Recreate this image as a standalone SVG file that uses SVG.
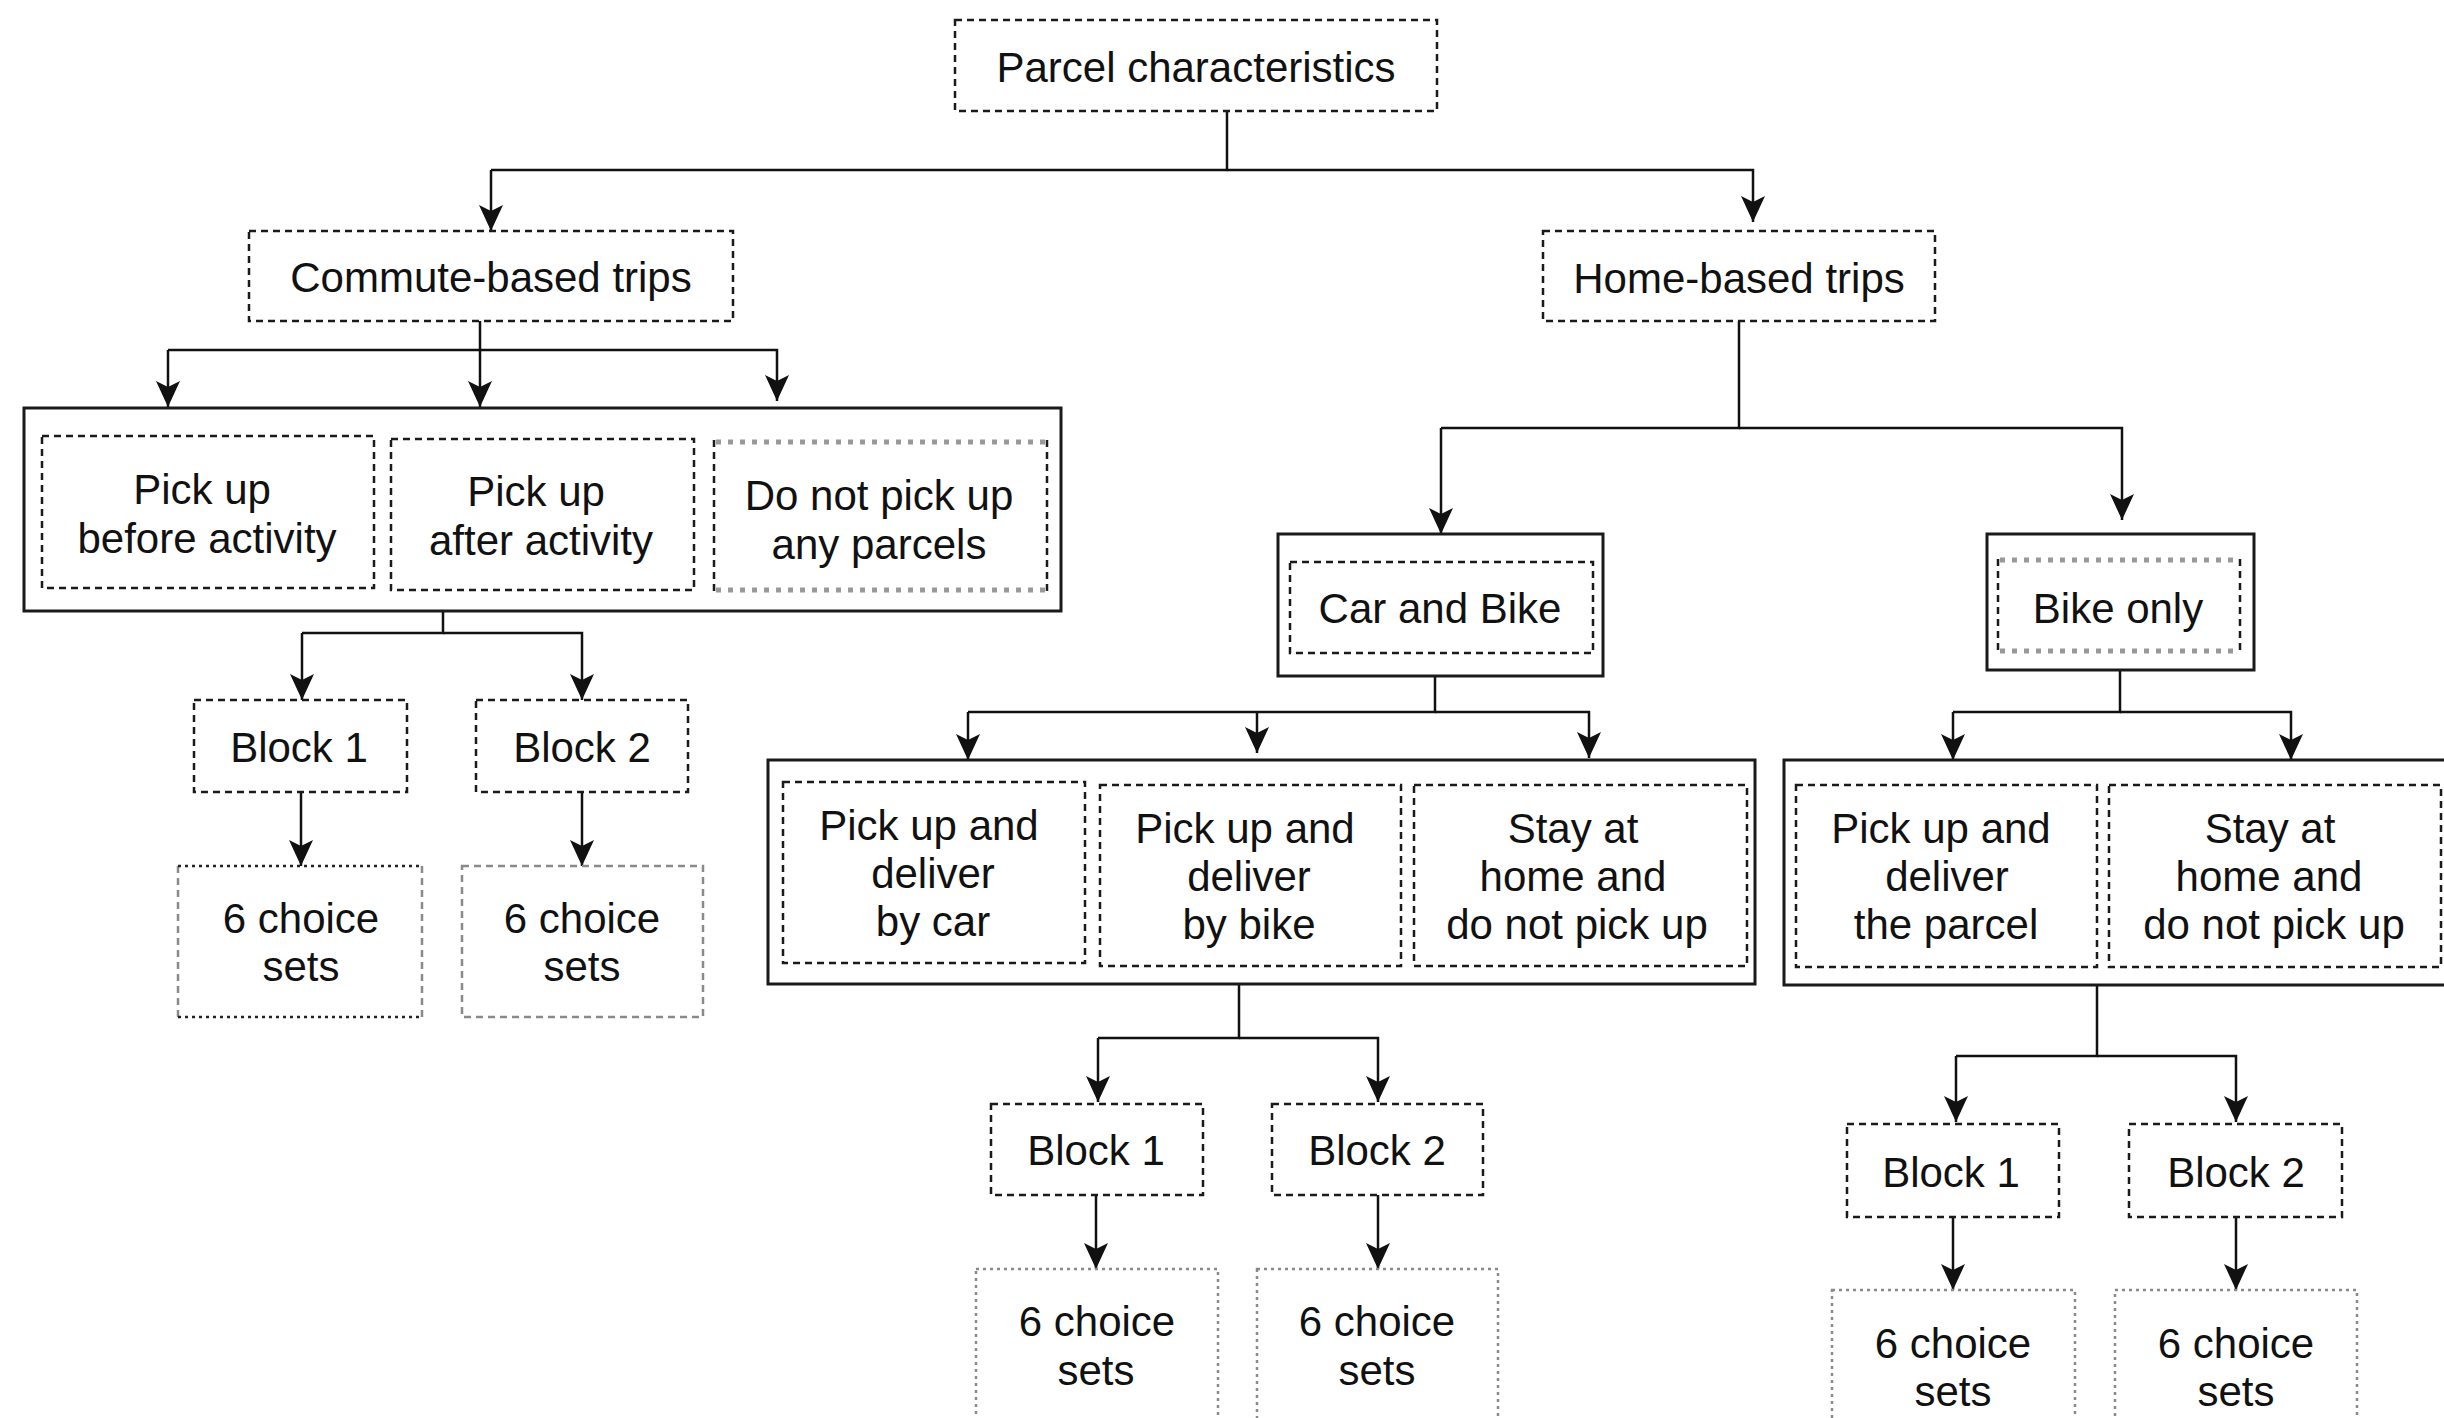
<svg xmlns="http://www.w3.org/2000/svg" width="2444" height="1418" viewBox="0 0 2444 1418">
<defs>
<style>
.d{fill:none;stroke:#1a1a1a;stroke-width:2.5;stroke-dasharray:7 5}
.s{fill:none;stroke:#1a1a1a;stroke-width:3}
.g{fill:none;stroke:#8a8a8a;stroke-width:2.5;stroke-dasharray:3 4}
.gd{fill:none;stroke:#8a8a8a;stroke-width:2.5;stroke-dasharray:7 5}
.k{fill:none;stroke:#222;stroke-width:2.5;stroke-dasharray:3 4}
.gt{fill:none;stroke:#999;stroke-width:5;stroke-dasharray:5 7}
.ds{fill:none;stroke:#1a1a1a;stroke-width:2.5;stroke-dasharray:7 5}
.t{font-family:"Liberation Sans",Arial,Helvetica,sans-serif;font-size:42px;fill:#111;text-anchor:middle}
.c{fill:none;stroke:#111;stroke-width:2.5;marker-end:url(#arr)}
.l{fill:none;stroke:#111;stroke-width:2.5}
</style>
<marker id="arr" viewBox="0 0 26 26" refX="26" refY="13" markerWidth="26" markerHeight="26" markerUnits="userSpaceOnUse" orient="auto">
<path d="M0,1 L26,13 L0,25 L6,13 Z" fill="#111"/>
</marker>
</defs>
<rect width="2444" height="1418" fill="#fff"/>

<g id="connectors">
<path class="l" d="M1227,111 V170 H491"/>
<path class="c" d="M491,170 V231"/>
<path class="c" d="M1227,170 H1753 V222"/>
<path class="l" d="M480,321 V350 H168"/>
<path class="c" d="M168,350 V407"/>
<path class="c" d="M480,350 V407"/>
<path class="c" d="M480,350 H777 V401"/>
<path class="l" d="M443,611 V633 H302"/>
<path class="c" d="M302,633 V700"/>
<path class="c" d="M443,633 H582 V700"/>
<path class="c" d="M301,792 V866"/>
<path class="c" d="M582,792 V866"/>
<path class="l" d="M1739,321 V428 H1441"/>
<path class="c" d="M1441,428 V534"/>
<path class="c" d="M1739,428 H2122 V520"/>
<path class="l" d="M1435,677 V712 H968"/>
<path class="c" d="M968,712 V760"/>
<path class="c" d="M1257,712 V753"/>
<path class="c" d="M1435,712 H1589 V758"/>
<path class="l" d="M2120,671 V712 H1953"/>
<path class="c" d="M1953,712 V760"/>
<path class="c" d="M2120,712 H2291 V760"/>
<path class="l" d="M1239,984 V1038 H1098"/>
<path class="c" d="M1098,1038 V1102"/>
<path class="c" d="M1239,1038 H1378 V1102"/>
<path class="c" d="M1096,1195 V1269"/>
<path class="c" d="M1378,1195 V1269"/>
<path class="l" d="M2097,985 V1056 H1956"/>
<path class="c" d="M1956,1056 V1122"/>
<path class="c" d="M2097,1056 H2236 V1122"/>
<path class="c" d="M1953,1217 V1290"/>
<path class="c" d="M2236,1217 V1290"/>
</g>

<g id="parcel">
<rect class="d" x="955" y="20" width="482" height="91"/>
<text class="t" x="1196" y="82">Parcel characteristics</text>
</g>
<g id="commute">
<rect class="d" x="249" y="231" width="484" height="90"/>
<text class="t" x="491" y="292">Commute-based trips</text>
</g>
<g id="home">
<rect class="d" x="1543" y="231" width="392" height="90"/>
<text class="t" x="1739" y="293">Home-based trips</text>
</g>

<g id="commute-options">
<rect class="s" x="24" y="408" width="1037" height="203"/>
<g id="pickup-before">
<rect class="d" x="42" y="436" width="332" height="152"/>
<text class="t" x="202" y="504">Pick up</text>
<text class="t" x="207" y="553">before activity</text>
</g>
<g id="pickup-after">
<rect class="d" x="391" y="439" width="303" height="151"/>
<text class="t" x="536" y="506">Pick up</text>
<text class="t" x="541" y="555">after activity</text>
</g>
<g id="no-pickup">
<line class="ds" x1="714" y1="440" x2="714" y2="592"/>
<line class="ds" x1="1047" y1="440" x2="1047" y2="592"/>
<line class="gt" x1="716" y1="442" x2="1045" y2="442"/>
<line class="gt" x1="716" y1="590" x2="1045" y2="590"/>
<text class="t" x="879" y="510">Do not pick up</text>
<text class="t" x="879" y="559">any parcels</text>
</g>
</g>

<g id="c-block1">
<rect class="d" x="194" y="700" width="213" height="92"/>
<text class="t" x="299" y="762">Block 1</text>
</g>
<g id="c-block2">
<rect class="d" x="476" y="700" width="212" height="92"/>
<text class="t" x="582" y="762">Block 2</text>
</g>
<g id="c-sets1">
<line class="gd" x1="178" y1="866" x2="178" y2="1017"/>
<line class="gd" x1="422" y1="866" x2="422" y2="1017"/>
<line class="k" x1="178" y1="866" x2="422" y2="866"/>
<line class="k" x1="178" y1="1017" x2="422" y2="1017"/>
<text class="t" x="301" y="933">6 choice</text>
<text class="t" x="301" y="981">sets</text>
</g>
<g id="c-sets2">
<rect class="gd" x="462" y="866" width="241" height="151"/>
<text class="t" x="582" y="933">6 choice</text>
<text class="t" x="582" y="981">sets</text>
</g>

<g id="car-bike">
<rect class="s" x="1278" y="534" width="325" height="142"/>
<rect class="d" x="1290" y="562" width="303" height="91"/>
<text class="t" x="1440" y="623">Car and Bike</text>
</g>
<g id="bike-only">
<rect class="s" x="1987" y="534" width="267" height="136"/>
<line class="ds" x1="1998" y1="559" x2="1998" y2="652"/>
<line class="ds" x1="2240" y1="559" x2="2240" y2="652"/>
<line class="gt" x1="2000" y1="560" x2="2238" y2="560"/>
<line class="gt" x1="2000" y1="651" x2="2238" y2="651"/>
<text class="t" x="2118" y="623">Bike only</text>
</g>

<g id="carbike-options">
<rect class="s" x="768" y="760" width="987" height="224"/>
<g id="car-deliver">
<rect class="d" x="783" y="782" width="302" height="181"/>
<text class="t" x="929" y="840">Pick up and</text>
<text class="t" x="933" y="888">deliver</text>
<text class="t" x="933" y="936">by car</text>
</g>
<g id="bike-deliver">
<rect class="d" x="1100" y="785" width="301" height="181"/>
<text class="t" x="1245" y="843">Pick up and</text>
<text class="t" x="1249" y="891">deliver</text>
<text class="t" x="1249" y="939">by bike</text>
</g>
<g id="stay-home-1">
<rect class="d" x="1414" y="785" width="333" height="181"/>
<text class="t" x="1573" y="843">Stay at</text>
<text class="t" x="1573" y="891">home and</text>
<text class="t" x="1577" y="939">do not pick up</text>
</g>
</g>

<g id="bike-options">
<rect class="s" x="1784" y="760" width="680" height="225"/>
<g id="bike-parcel">
<rect class="d" x="1796" y="785" width="301" height="182"/>
<text class="t" x="1941" y="843">Pick up and</text>
<text class="t" x="1947" y="891">deliver</text>
<text class="t" x="1946" y="939">the parcel</text>
</g>
<g id="stay-home-2">
<rect class="d" x="2109" y="785" width="332" height="182"/>
<text class="t" x="2270" y="843">Stay at</text>
<text class="t" x="2269" y="891">home and</text>
<text class="t" x="2274" y="939">do not pick up</text>
</g>
</g>

<g id="m-block1">
<rect class="d" x="991" y="1104" width="212" height="91"/>
<text class="t" x="1096" y="1165">Block 1</text>
</g>
<g id="m-block2">
<rect class="d" x="1272" y="1104" width="211" height="91"/>
<text class="t" x="1377" y="1165">Block 2</text>
</g>
<g id="m-sets1">
<rect class="g" x="976" y="1269" width="242" height="170"/>
<text class="t" x="1097" y="1336">6 choice</text>
<text class="t" x="1096" y="1385">sets</text>
</g>
<g id="m-sets2">
<rect class="g" x="1257" y="1269" width="241" height="170"/>
<text class="t" x="1377" y="1336">6 choice</text>
<text class="t" x="1377" y="1385">sets</text>
</g>

<g id="r-block1">
<rect class="d" x="1847" y="1124" width="212" height="93"/>
<text class="t" x="1951" y="1187">Block 1</text>
</g>
<g id="r-block2">
<rect class="d" x="2129" y="1124" width="213" height="93"/>
<text class="t" x="2236" y="1187">Block 2</text>
</g>
<g id="r-sets1">
<rect class="g" x="1832" y="1290" width="243" height="150"/>
<text class="t" x="1953" y="1358">6 choice</text>
<text class="t" x="1953" y="1406">sets</text>
</g>
<g id="r-sets2">
<rect class="g" x="2115" y="1290" width="242" height="150"/>
<text class="t" x="2236" y="1358">6 choice</text>
<text class="t" x="2236" y="1406">sets</text>
</g>
</svg>
